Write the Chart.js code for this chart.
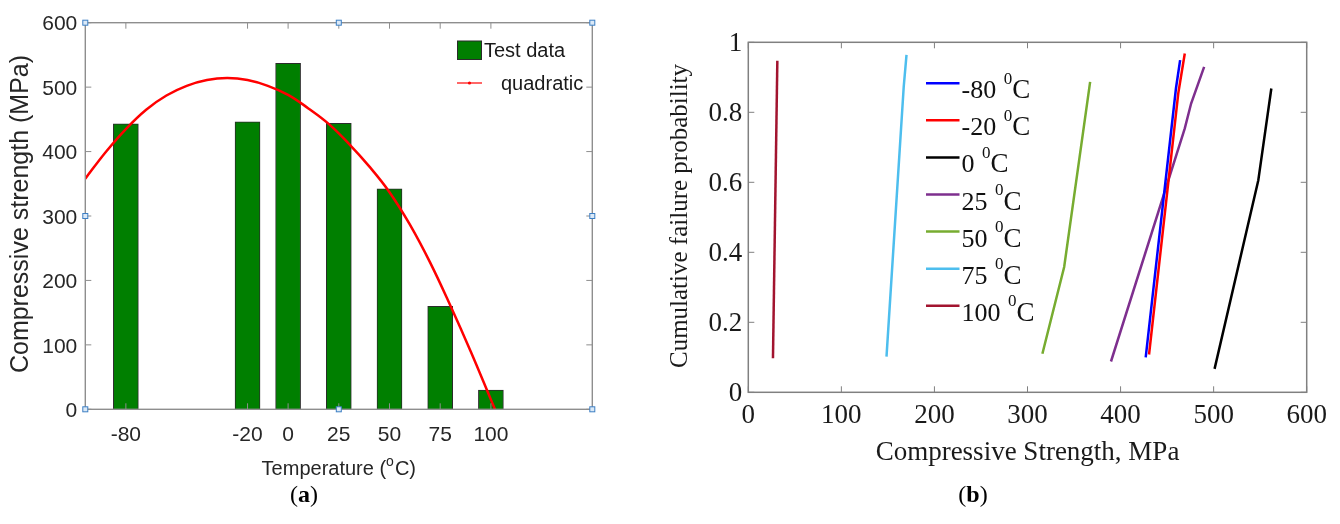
<!DOCTYPE html>
<html><head><meta charset="utf-8">
<script src="https://cdn.jsdelivr.net/npm/chart.js@4.4.1/dist/chart.umd.min.js"></script>
<style>
html,body{margin:0;padding:0;background:#fff;width:1340px;height:524px;overflow:hidden;}
#ca{position:absolute;left:0;top:0;}
#cb{position:absolute;left:650px;top:0;}
</style></head><body>
<canvas id="ca" width="650" height="524"></canvas>
<canvas id="cb" width="690" height="524"></canvas>
<script>
// ---------- data: panel (a) ----------
const temperatures = [-80, -20, 0, 25, 50, 75, 100];
const strengthMPa = [443, 446, 537, 444, 342, 160, 30];
const fitX = [-100,-90,-80,-70,-60,-50,-40,-30,-20,-10,0,10,20,30,40,50,60,70,80,90,100,102];
const fitY = [358,399,435,465,487,502,511,514,511,502,488,467,443,412,377,337,287,228,161,90,15,0];
const yTicksA = [0,100,200,300,400,500,600];

// ---------- data: panel (b) ----------
const seriesNames = ['-80','-20','0','25','50','75','100'];
const seriesColors = ['#0000ff','#ff0000','#000000','#7e2f8e','#77ac30','#4dbeee','#a2142f'];
const sM80X = [427, 459.5, 464],        sM80Y = [0.100, 0.868, 0.949];
const sM20X = [430.6, 462, 469],        sM20Y = [0.108, 0.854, 0.968];
const s0X   = [501, 548, 562],          s0Y   = [0.067, 0.606, 0.868];
const s25X  = [389.7, 469, 475.8, 489.8], s25Y = [0.088, 0.754, 0.825, 0.930];
const s50X  = [316, 339.4, 367.3],      s50Y  = [0.110, 0.358, 0.887];
const s75X  = [148.5, 167, 170],        s75Y  = [0.102, 0.873, 0.964];
const s100X = [26.5, 31.2],             s100Y = [0.097, 0.947];
const xTicksB = [0,100,200,300,400,500,600];
const yTicksB = [0,0.2,0.4,0.6,0.8,1];

const pts = (xs, ys) => xs.map((x, i) => ({x: x, y: ys[i]}));

function drawCaption(ctx, letter, cx, cy) {
  const fr = '24px "Liberation Serif", "Times New Roman", serif', fb = 'bold 24px "Liberation Serif", "Times New Roman", serif';
  ctx.save();
  ctx.fillStyle = '#000'; ctx.textBaseline = 'middle'; ctx.textAlign = 'left';
  ctx.font = fr; const wp = ctx.measureText('(').width, wq = ctx.measureText(')').width;
  ctx.font = fb; const wl = ctx.measureText(letter).width;
  let x0 = cx - (wp + wl + wq) / 2;
  ctx.font = fr; ctx.fillText('(', x0, cy); x0 += wp;
  ctx.font = fb; ctx.fillText(letter, x0, cy); x0 += wl;
  ctx.font = fr; ctx.fillText(')', x0, cy);
  ctx.restore();
}

// ---------- panel (a) decorations ----------
const frameA = {
  id: 'frameA',
  afterDraw(chart) {
    const {ctx, chartArea: a, scales: {x, y}} = chart;
    ctx.save();
    ctx.strokeStyle = '#8e8e8e'; ctx.lineWidth = 1.4;
    ctx.strokeRect(a.left, a.top, a.right - a.left, a.bottom - a.top);
    ctx.lineWidth = 1;
    ctx.beginPath();
    temperatures.forEach(v => {
      const px = x.getPixelForValue(v);
      ctx.moveTo(px, a.bottom); ctx.lineTo(px, a.bottom - 6);
      ctx.moveTo(px, a.top); ctx.lineTo(px, a.top + 6);
    });
    yTicksA.forEach(v => {
      const py = y.getPixelForValue(v);
      ctx.moveTo(a.left, py); ctx.lineTo(a.left + 6, py);
      ctx.moveTo(a.right, py); ctx.lineTo(a.right - 6, py);
    });
    ctx.stroke();
    // edit handles
    const mx = (a.left + a.right) / 2, my = (a.top + a.bottom) / 2;
    [[a.left,a.top],[mx,a.top],[a.right,a.top],[a.left,my],[a.right,my],[a.left,a.bottom],[mx,a.bottom],[a.right,a.bottom]].forEach(([hx,hy]) => {
      ctx.fillStyle = '#dbe9f7'; ctx.fillRect(hx - 2.5, hy - 2.5, 5, 5);
      ctx.strokeStyle = '#3d7fc4'; ctx.lineWidth = 1; ctx.strokeRect(hx - 2.5, hy - 2.5, 5, 5);
    });
    // tick labels
    ctx.fillStyle = '#262626';
    ctx.font = '21px "Liberation Sans", Arial, sans-serif';
    ctx.textAlign = 'right'; ctx.textBaseline = 'middle';
    yTicksA.forEach(v => ctx.fillText(String(v), a.left - 8, y.getPixelForValue(v) + 2));
    ctx.textAlign = 'center';
    temperatures.forEach(v => ctx.fillText(String(v), x.getPixelForValue(v), a.bottom + 26));
    // x title with superscript
    const f1 = '20px "Liberation Sans", Arial, sans-serif', f2 = '14px "Liberation Sans", Arial, sans-serif';
    ctx.textAlign = 'left'; ctx.textBaseline = 'alphabetic';
    ctx.font = f1; const t1 = 'Temperature (', t3 = 'C)';
    const w1 = ctx.measureText(t1).width, w3 = ctx.measureText(t3).width;
    ctx.font = f2; const w2 = ctx.measureText('o').width + 1;
    let sx = mx - (w1 + w2 + w3) / 2; const by = 475;
    ctx.font = f1; ctx.fillText(t1, sx, by); sx += w1;
    ctx.font = f2; ctx.fillText('o', sx, by - 9); sx += w2;
    ctx.font = f1; ctx.fillText(t3, sx, by);
    // y title
    ctx.save();
    ctx.translate(21, 214); ctx.rotate(-Math.PI / 2);
    ctx.font = '25px "Liberation Sans", Arial, sans-serif';
    ctx.textAlign = 'center'; ctx.textBaseline = 'middle';
    ctx.fillText('Compressive strength (MPa)', 0, 0);
    ctx.restore();
    // legend
    const ds = chart.data.datasets;
    ctx.fillStyle = ds[1].backgroundColor; ctx.fillRect(457.5, 41, 24, 18.5);
    ctx.strokeStyle = '#2b2b2b'; ctx.lineWidth = 1; ctx.strokeRect(457.5, 41, 24, 18.5);
    ctx.fillStyle = '#1a1a1a'; ctx.font = f1; ctx.textBaseline = 'middle';
    ctx.fillText(ds[1].label, 484, 51.5);
    ctx.strokeStyle = ds[0].borderColor; ctx.lineWidth = 1.2;
    ctx.beginPath(); ctx.moveTo(457, 83); ctx.lineTo(482, 83); ctx.stroke();
    ctx.fillStyle = ds[0].borderColor; ctx.beginPath(); ctx.arc(469.5, 83, 1.6, 0, Math.PI * 2); ctx.fill();
    ctx.fillStyle = '#1a1a1a';
    ctx.fillText(ds[0].label, 501, 84);
    // caption
    drawCaption(ctx, 'a', 304, 496);
    ctx.restore();
  }
};

new Chart(document.getElementById('ca'), {
  type: 'bar',
  data: {
    datasets: [
      { type: 'line', label: 'quadratic', data: pts(fitX, fitY), borderColor: '#ff0000',
        borderWidth: 2.5, pointRadius: 0, tension: 0.4, order: 0 },
      { type: 'bar', label: 'Test data', data: pts(temperatures, strengthMPa), backgroundColor: '#007f00',
        borderColor: '#2b2b2b', borderWidth: 1, barThickness: 25, order: 1 }
    ]
  },
  options: {
    responsive: false, animation: false, devicePixelRatio: 1,
    layout: { padding: { left: 85.3, top: 22.7, right: 57.7, bottom: 114.7 } },
    plugins: { legend: { display: false }, tooltip: { enabled: false } },
    scales: {
      x: { type: 'linear', min: -100, max: 150, offset: false, display: false },
      y: { type: 'linear', min: 0, max: 600, display: false }
    }
  },
  plugins: [frameA]
});

// ---------- panel (b) ----------
const frameB = {
  id: 'frameB',
  afterDraw(chart) {
    const {ctx, chartArea: a, scales: {x, y}} = chart;
    ctx.save();
    ctx.strokeStyle = '#808080'; ctx.lineWidth = 1.5;
    ctx.strokeRect(a.left, a.top, a.right - a.left, a.bottom - a.top);
    ctx.lineWidth = 1;
    ctx.beginPath();
    xTicksB.forEach(v => {
      const px = x.getPixelForValue(v);
      ctx.moveTo(px, a.bottom); ctx.lineTo(px, a.bottom - 6);
      ctx.moveTo(px, a.top); ctx.lineTo(px, a.top + 6);
    });
    yTicksB.forEach(v => {
      const py = y.getPixelForValue(v);
      ctx.moveTo(a.left, py); ctx.lineTo(a.left + 6, py);
      ctx.moveTo(a.right, py); ctx.lineTo(a.right - 6, py);
    });
    ctx.stroke();
    const serif = '"Liberation Serif", "Times New Roman", serif';
    ctx.fillStyle = '#1a1a1a';
    ctx.font = '27px ' + serif;
    ctx.textAlign = 'right'; ctx.textBaseline = 'middle';
    yTicksB.forEach(v => ctx.fillText(String(v), a.left - 6, y.getPixelForValue(v) + 2));
    ctx.textAlign = 'center';
    xTicksB.forEach(v => ctx.fillText(String(v), x.getPixelForValue(v), a.bottom + 24));
    ctx.fillText('Compressive Strength, MPa', (a.left + a.right) / 2, 453);
    ctx.save();
    ctx.translate(30, 216); ctx.rotate(-Math.PI / 2);
    ctx.font = '25px ' + serif;
    ctx.fillText('Cumulative failure probability', 0, 0);
    ctx.restore();
    // legend
    ctx.textAlign = 'left'; ctx.textBaseline = 'alphabetic';
    chart.data.datasets.forEach((ds, i) => {
      const ry = 83.3 + i * 37.07;
      ctx.strokeStyle = ds.borderColor; ctx.lineWidth = 2.5;
      ctx.beginPath(); ctx.moveTo(276, ry); ctx.lineTo(309.5, ry); ctx.stroke();
      ctx.fillStyle = '#111';
      ctx.font = '26px ' + serif;
      let tx = 311.5;
      const main = ds.label + ' ';
      ctx.fillText(main, tx, ry + 15);
      tx += ctx.measureText(main).width + 1;
      ctx.font = '17px ' + serif;
      ctx.fillText('0', tx, ry + 0.5);
      tx += ctx.measureText('0').width;
      ctx.font = '27px ' + serif;
      ctx.fillText('C', tx, ry + 15);
    });
    drawCaption(ctx, 'b', 323, 496);
    ctx.restore();
  }
};

const seriesX = [sM80X, sM20X, s0X, s25X, s50X, s75X, s100X];
const seriesY = [sM80Y, sM20Y, s0Y, s25Y, s50Y, s75Y, s100Y];

new Chart(document.getElementById('cb'), {
  type: 'line',
  data: {
    datasets: seriesNames.map((n, i) => ({
      label: n, data: pts(seriesX[i], seriesY[i]), borderColor: seriesColors[i],
      borderWidth: 2.5, pointRadius: 0, tension: 0, fill: false
    }))
  },
  options: {
    responsive: false, animation: false, devicePixelRatio: 1,
    layout: { padding: { left: 98.3, top: 42.3, right: 33.3, bottom: 131.7 } },
    plugins: { legend: { display: false }, tooltip: { enabled: false } },
    scales: {
      x: { type: 'linear', min: 0, max: 600, display: false },
      y: { type: 'linear', min: 0, max: 1, display: false }
    }
  },
  plugins: [frameB]
});
</script>
</body></html>
